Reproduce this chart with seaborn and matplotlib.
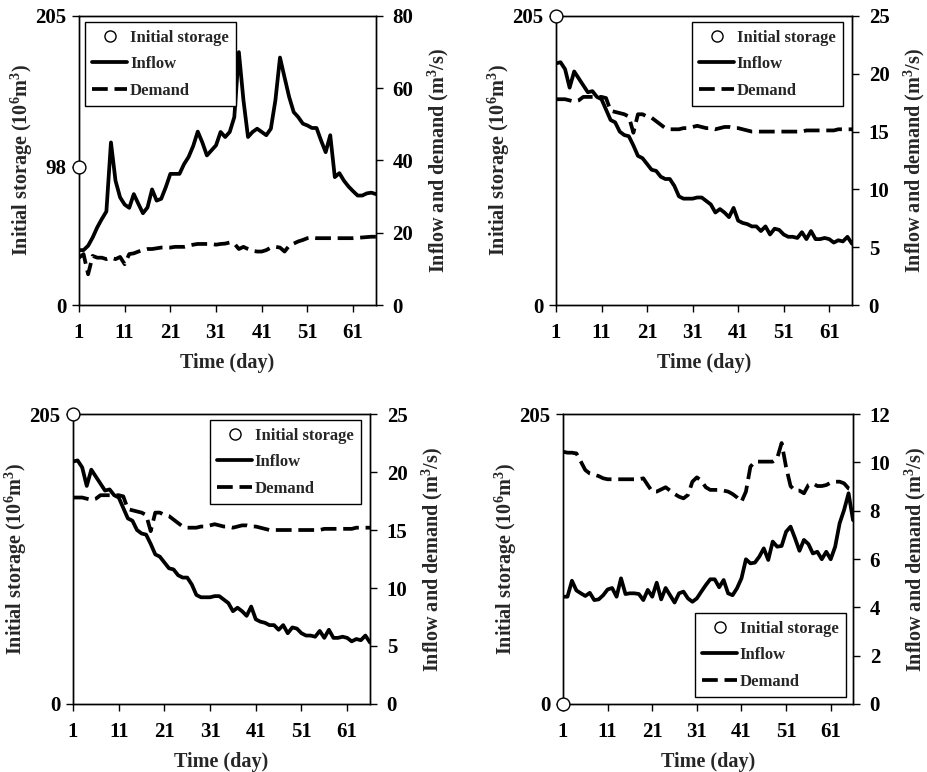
import numpy as np
import pandas as pd
import matplotlib
matplotlib.use("Agg")
import matplotlib.pyplot as plt
from matplotlib.lines import Line2D
import seaborn as sns

sns.set_style("ticks")
plt.rcParams['font.family'] = ['Liberation Serif', 'DejaVu Serif']
plt.rcParams['font.weight'] = 'bold'
plt.rcParams['mathtext.fontset'] = 'custom'
plt.rcParams['mathtext.rm'] = 'Liberation Serif:bold'
plt.rcParams['mathtext.it'] = 'Liberation Serif:bold'
plt.rcParams['mathtext.bf'] = 'Liberation Serif:bold'

# ---------------- data ----------------
days = list(range(1, 67))
xtick_days = [1, 11, 21, 31, 41, 51, 61]

inflow_a = [15.2, 15.2, 16.4, 18.7, 21.5, 23.8, 25.9, 45.0, 34.4, 29.8,
            27.8, 26.9, 30.7, 28.0, 25.4, 27.0, 32.0, 28.9, 29.4, 32.6,
            36.3, 36.3, 36.3, 39.0, 41.0, 44.0, 48.0, 45.0, 41.4, 42.8,
            44.2, 47.9, 46.5, 47.9, 52.0, 70.0, 56.7, 46.5, 47.9, 48.8,
            47.9, 47.0, 48.8, 56.7, 68.5, 63.0, 57.6, 53.4, 52.0, 50.2,
            49.7, 49.0, 49.0, 45.5, 42.3, 47.0, 35.4, 36.5, 34.4, 32.8,
            31.5, 30.3, 30.3, 30.9, 31.1, 30.7]
demand_a = [13.1, 14.1, 8.5, 13.6, 13.1, 13.1, 12.7, 13.1, 12.7, 13.3,
            11.3, 14.1, 14.3, 14.8, 15.2, 15.5, 15.5, 15.7, 15.9, 15.9,
            15.9, 16.1, 16.1, 16.1, 16.4, 16.7, 16.9, 16.9, 16.9, 16.9,
            16.7, 16.9, 17.0, 17.3, 17.0, 15.5, 16.1, 15.5, 15.0, 14.8,
            14.8, 15.2, 15.9, 16.1, 15.9, 14.8, 16.4, 17.0, 17.6, 18.0,
            18.5, 18.7, 18.5, 18.5, 18.5, 18.5, 18.5, 18.5, 18.5, 18.5,
            18.5, 18.6, 18.7, 18.8, 18.9, 18.9]

inflow_b = [20.9, 21.0, 20.4, 18.8, 20.2, 19.6, 19.0, 18.4, 18.5, 18.0,
            17.8, 16.9, 16.0, 15.8, 15.0, 14.7, 14.6, 13.8, 12.9, 12.7,
            12.2, 11.7, 11.6, 11.1, 10.9, 10.9, 10.3, 9.4, 9.2, 9.2,
            9.2, 9.3, 9.3, 9.0, 8.7, 8.0, 8.3, 8.0, 7.6, 8.4,
            7.3, 7.1, 7.0, 6.8, 6.8, 6.4, 6.8, 6.1, 6.6, 6.5,
            6.1, 5.9, 5.9, 5.8, 6.3, 5.7, 6.4, 5.7, 5.7, 5.8,
            5.7, 5.4, 5.6, 5.5, 5.9, 5.3]
demand_b = [17.8, 17.8, 17.8, 17.7, 17.6, 17.7, 18.0, 18.0, 18.0, 18.0,
            18.0, 17.9, 16.8, 16.7, 16.6, 16.5, 16.3, 14.9, 16.5, 16.5,
            16.3, 16.2, 15.9, 15.6, 15.3, 15.2, 15.2, 15.2, 15.3, 15.3,
            15.4, 15.5, 15.4, 15.3, 15.3, 15.2, 15.3, 15.4, 15.4, 15.3,
            15.3, 15.2, 15.1, 15.0, 15.0, 15.0, 15.0, 15.0, 15.0, 15.0,
            15.0, 15.0, 15.0, 15.0, 15.0, 15.1, 15.1, 15.1, 15.1, 15.1,
            15.1, 15.1, 15.2, 15.2, 15.2, 15.2]

inflow_d = [4.44, 4.44, 5.10, 4.70, 4.58, 4.47, 4.60, 4.30, 4.33, 4.50,
            4.74, 4.80, 4.44, 5.20, 4.55, 4.58, 4.58, 4.55, 4.30, 4.72,
            4.44, 5.02, 4.33, 4.80, 4.50, 4.20, 4.58, 4.65, 4.37, 4.23,
            4.37, 4.65, 4.92, 5.16, 5.16, 4.83, 5.13, 4.58, 4.50, 4.79,
            5.20, 5.99, 5.82, 5.85, 6.10, 6.44, 5.96, 6.72, 6.51, 6.54,
            7.13, 7.34, 6.86, 6.34, 6.79, 6.62, 6.23, 6.30, 5.99, 6.30,
            5.99, 6.51, 7.48, 8.03, 8.72, 7.61]
demand_d = [10.44, 10.40, 10.40, 10.37, 10.03, 9.68, 9.54, 9.49, 9.43, 9.34,
            9.30, 9.30, 9.30, 9.30, 9.30, 9.30, 9.30, 9.30, 9.34, 9.06,
            8.79, 8.79, 8.88, 8.97, 8.83, 8.69, 8.58, 8.51, 8.65, 9.20,
            9.38, 9.24, 8.97, 8.86, 8.86, 8.86, 8.83, 8.79, 8.69, 8.55,
            8.37, 8.79, 9.82, 10.03, 10.03, 10.03, 10.03, 10.03, 10.17, 10.80,
            9.80, 9.02, 8.83, 8.83, 8.72, 9.06, 9.13, 9.02, 9.02, 9.06,
            9.16, 9.20, 9.20, 9.13, 8.92, 8.86]

initial_storage = [98, 205, 205, 0]
left_ticks = [[0, 98, 205], [0, 205], [0, 205], [0, 205]]
right_max = [80, 25, 25, 12]
right_step = [20, 5, 5, 2]

panels = [
    dict(inflow=inflow_a, demand=demand_a, pos=[0.0851, 0.6049, 0.3200, 0.3744],
         leg_loc='upper left', leg_anchor=(0.02, 0.978)),
    dict(inflow=inflow_b, demand=demand_b, pos=[0.5991, 0.6049, 0.3190, 0.3744],
         leg_loc='upper right', leg_anchor=(0.97, 0.978)),
    dict(inflow=inflow_b, demand=demand_b, pos=[0.0787, 0.0881, 0.3200, 0.3756],
         leg_loc='upper right', leg_anchor=(0.97, 0.978)),
    dict(inflow=inflow_d, demand=demand_d, pos=[0.6067, 0.0881, 0.3125, 0.3756],
         leg_loc='lower right', leg_anchor=(0.975, 0.024)),
]

fig = plt.figure(figsize=(9.28, 7.72), dpi=100)

TICK_FS = 15
XLAB_FS = 14.5
YLAB_FS = 14.5
DASH = [4.2, 1.8]
for i, p in enumerate(panels):
    ax = fig.add_axes(p['pos'])
    ax2 = ax.twinx()
    df = pd.DataFrame({'day': days, 'Inflow': p['inflow'], 'Demand': p['demand']})
    sns.lineplot(data=df, x='day', y='Inflow', ax=ax2, color='black', lw=2.7)
    sns.lineplot(data=df, x='day', y='Demand', ax=ax2, color='black', lw=2.7,
                 linestyle='--')
    ax2.lines[-1].set_dashes(DASH)
    # storage marker on the left axis, drawn on top
    ax.set_zorder(ax2.get_zorder() + 1)
    ax.patch.set_visible(False)
    sns.scatterplot(x=[1], y=[initial_storage[i]], ax=ax, marker='o', s=85,
                    facecolor='white', edgecolor='black', linewidth=1.0,
                    clip_on=False, zorder=10)

    ax.set_xlim(1, 66)
    ax2.set_xlim(1, 66)
    ax.set_ylim(0, 205)
    ax2.set_ylim(0, right_max[i])
    ax.set_yticks(left_ticks[i])
    ax2.set_yticks(np.arange(0, right_max[i] + 0.1, right_step[i]))
    ax.set_xticks(xtick_days)
    ax.set_xticklabels([str(d) for d in xtick_days])

    for a in (ax, ax2):
        a.tick_params(direction='out', length=5, width=1.0, labelsize=TICK_FS,
                      colors='black')
        for s in a.spines.values():
            s.set_visible(True)
            s.set_linewidth(1.0)
            s.set_color('black')
    ax.tick_params(axis='y', pad=4)
    ax.tick_params(axis='x', pad=8)
    ax2.tick_params(axis='y', pad=7)
    for a in (ax, ax2):
        for lab in a.get_xticklabels() + a.get_yticklabels():
            lab.set_fontweight('bold')
    ax2.set_xlabel('')
    ax.set_xlabel('Time (day)', fontsize=XLAB_FS, fontweight='bold', labelpad=7)
    ax.set_ylabel(r'Initial storage (10$^6$m$^3$)', fontsize=YLAB_FS, fontweight='bold',
                  labelpad=0)
    ax2.set_ylabel(r'Inflow and demand (m$^3$/s)', fontsize=YLAB_FS, fontweight='bold',
                   labelpad=9)

    handles = [
        Line2D([], [], marker='o', linestyle='none', markerfacecolor='white',
               markeredgecolor='black', markersize=8),
        Line2D([], [], color='black', lw=2.7),
        Line2D([], [], color='black', lw=2.7, dashes=DASH),
    ]
    leg = ax.legend(handles, ['Initial storage', 'Inflow', 'Demand'],
                    loc=p['leg_loc'], bbox_to_anchor=p['leg_anchor'],
                    frameon=True, fancybox=False, edgecolor='black',
                    framealpha=1, handlelength=2.1, handletextpad=0.15,
                    borderpad=0.45, labelspacing=0.62, borderaxespad=0,
                    prop={'family': 'Liberation Serif', 'weight': 'bold', 'size': 12})
    leg.get_frame().set_linewidth(1.0)

fig.savefig('out.png', dpi=100)
